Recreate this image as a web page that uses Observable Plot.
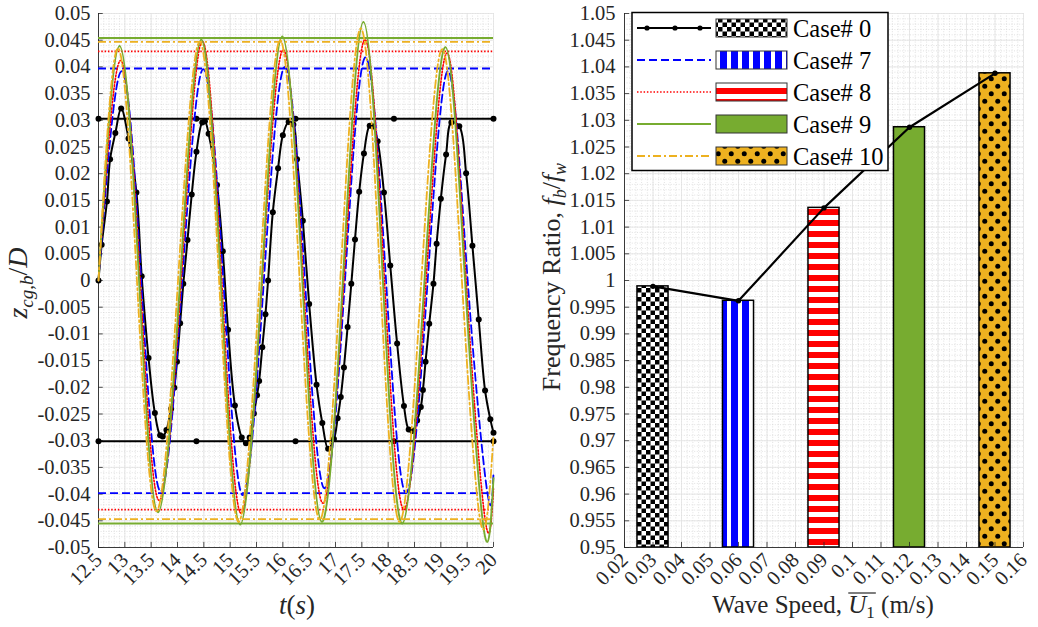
<!DOCTYPE html>
<html><head><meta charset="utf-8">
<script src="https://cdn.jsdelivr.net/npm/d3@7"></script>
<script src="https://cdn.jsdelivr.net/npm/@observablehq/plot@0.6"></script>
<style>
body{margin:0;background:#fff;font-family:"Liberation Serif",serif;}
#wrap{position:relative;width:1038px;height:627px;overflow:hidden;background:#fff;}
#left{position:absolute;left:0;top:0;}
#right{position:absolute;left:520px;top:0;}
svg text{font-family:"Liberation Serif","Times New Roman",serif;}
</style></head><body><div id="wrap"><div id="left"></div><div id="right"></div></div>
<script>
// ---------------- DATA ----------------
const caseLabels = ["Case# 0","Case# 7","Case# 8","Case# 9","Case# 10"];
const caseColors = ["#000000","#0000FF","#FF0000","#77AC30","#EDB120"];
const caseDash   = [null,"8,4","1.5,1.8",null,"8,3,2,3"];
const caseWidth  = [2,1.8,1.6,1.9,1.8];
// right panel
const waveSpeed = [0.03,0.06,0.09,0.12,0.15];
const freqRatio = [0.9989,0.9962,1.0136,1.0287,1.0388];
const barFill   = ["url(#pCheck)","url(#pVert)","url(#pHoriz)","#77AC30","url(#pDots)"];
// left panel: amplitude levels (horizontal lines)
const hiLevel = [0.0303,0.0397,0.0429,0.0454,0.0447];
const loLevel = [-0.0301,-0.0398,-0.0429,-0.0455,-0.0447];
const hlineMarkT = [12.5,14.36,16.24,18.11,20];
// time series [t, z/D]
const case0 = [[12.5,0],[12.56,0.0067],[12.66,0.0148],[12.72,0.0227],[12.82,0.0276],[12.93,0.0322],[13.07,0.0266],[13.22,0.0165],[13.32,0.0008],[13.45,-0.0145],[13.57,-0.0248],[13.67,-0.0290],[13.72,-0.0292],[13.79,-0.0280],[13.88,-0.0240],[13.94,-0.0201],[13.99,-0.0152],[14.05,-0.0080],[14.11,-0.0006],[14.19,0.0076],[14.27,0.0161],[14.36,0.0241],[14.47,0.0296],[14.52,0.0298],[14.59,0.0275],[14.75,0.0179],[14.86,0.0055],[14.96,-0.0092],[15.09,-0.0234],[15.22,-0.0294],[15.30,-0.0305],[15.37,-0.0294],[15.45,-0.0249],[15.51,-0.0215],[15.55,-0.0188],[15.61,-0.0125],[15.67,-0.0063],[15.72,0],[15.81,0.0128],[15.91,0.0210],[16.0,0.0272],[16.11,0.0297],[16.2,0.0292],[16.27,0.0227],[16.38,0.0112],[16.5,-0.0044],[16.64,-0.0195],[16.75,-0.0267],[16.86,-0.0315],[16.97,-0.0297],[17.04,-0.0258],[17.10,-0.0218],[17.16,-0.0163],[17.23,-0.0087],[17.30,-0.0006],[17.37,0.0077],[17.45,0.0166],[17.54,0.0238],[17.65,0.0290],[17.71,0.0289],[17.8,0.0261],[17.92,0.0165],[18.04,0.0028],[18.17,-0.0118],[18.30,-0.0235],[18.39,-0.0279],[18.46,-0.0282],[18.55,-0.0262],[18.62,-0.0237],[18.66,-0.0205],[18.71,-0.0152],[18.78,-0.0081],[18.86,-0.0006],[18.92,0.0069],[19.0,0.0153],[19.1,0.0236],[19.2,0.0296],[19.35,0.0289],[19.48,0.0201],[19.6,0.0065],[19.72,-0.0073],[19.84,-0.0206],[19.94,-0.0260],[20.0,-0.0285]];
const case7 = [[12.5,0],[12.94,0.0392],[13.31,0],[13.68,-0.0395],[14.09,0],[14.49,0.0396],[14.87,0],[15.24,-0.0402],[15.64,0],[16.04,0.0400],[16.42,0],[16.79,-0.0389],[17.18,0],[17.57,0.0418],[17.96,0],[18.34,-0.0398],[18.75,0],[19.14,0.0392],[19.51,0],[19.88,-0.0395],[20,-0.0360]];
const case8 = [[12.5,0],[12.92,0.0412],[13.29,0],[13.65,-0.0412],[14.07,0],[14.47,0.0448],[14.84,0],[15.21,-0.0436],[15.61,0],[16.01,0.0432],[16.39,0],[16.76,-0.0417],[17.16,0],[17.56,0.0451],[17.93,0],[18.30,-0.0429],[18.72,0],[19.12,0.0426],[19.48,0],[19.84,-0.0447],[20,-0.0390]];
const case9 = [[12.5,0],[12.9,0.0439],[13.27,0],[13.63,-0.0434],[14.05,0],[14.45,0.0451],[14.82,0],[15.19,-0.0457],[15.60,0],[15.99,0.0457],[16.37,0],[16.74,-0.0452],[17.14,0],[17.53,0.0484],[17.9,0],[18.27,-0.0455],[18.69,0],[19.09,0.0437],[19.46,0],[19.82,-0.0469],[20,-0.0370]];
const case10 = [[12.5,0],[12.87,0.0435],[13.23,0],[13.6,-0.0432],[14.01,0],[14.42,0.0447],[14.79,0],[15.16,-0.0452],[15.56,0],[15.95,0.0450],[16.32,0],[16.70,-0.0448],[17.09,0],[17.48,0.0472],[17.85,0],[18.22,-0.0452],[18.63,0],[19.03,0.0433],[19.40,0],[19.76,-0.0455],[20,-0.0290]];
const seriesData = [case0,case7,case8,case9,case10];
// ticks
const timeTicks  = d3.range(0,16).map(i=>+(12.5+i*0.5).toFixed(1));
const zTicks     = d3.range(0,21).map(i=>+(-0.05+i*0.005).toFixed(3));
const speedTicks = d3.range(0,15).map(i=>+(0.02+i*0.01).toFixed(2));
const ratioTicks = d3.range(0,21).map(i=>+(0.95+i*0.005).toFixed(3));

// ---------------- helpers ----------------
const FONT = "'Liberation Serif', 'Times New Roman', serif";
const fmt = d => String(d);
const minorXL = d3.range(0,76).map(i=>12.5+i*0.1);
const minorYL = d3.range(0,101).map(i=>-0.05+i*0.001);
const minorXR = d3.range(0,71).map(i=>0.02+i*0.002);
const minorYR = d3.range(0,101).map(i=>0.95+i*0.001);
const AX = "#262626";
const baseStyle = {fontFamily:FONT, fontSize:"20.5px", color:AX, background:"transparent", overflow:"visible"};
const minorOpt = {stroke:"#cfcfcf", strokeWidth:0.6, strokeDasharray:"1,1.6"};
const majorOpt = {stroke:"#e2e2e2", strokeWidth:0.8};

// ---------------- LEFT ----------------
const seriesMarks = [];
seriesData.forEach((s,i)=>{
  const o = {stroke:caseColors[i], strokeWidth:caseWidth[i], strokeDasharray:caseDash[i]};
  seriesMarks.push(Plot.ruleY([hiLevel[i], loLevel[i]], o));
  seriesMarks.push(Plot.line(s, {x:d=>d[0], y:d=>d[1], curve: i===0 ? "catmull-rom" : "natural", ...o}));
  if (i===0) {
    seriesMarks.push(Plot.dot(s, {x:d=>d[0], y:d=>d[1], r:3, fill:"black", stroke:"none"}));
    seriesMarks.push(Plot.dot(hlineMarkT.flatMap(t=>[[t,hiLevel[0]],[t,loLevel[0]]]), {x:d=>d[0], y:d=>d[1], r:3, fill:"black", stroke:"none"}));
  }
});

const L = Plot.plot({
  width:520, height:627, marginLeft:98, marginRight:27, marginTop:13, marginBottom:80,
  style: baseStyle,
  x:{domain:[12.5,20]},
  y:{domain:[-0.05,0.05]},
  marks:[
    Plot.ruleX(minorXL, minorOpt),
    Plot.ruleY(minorYL, minorOpt),
    Plot.ruleX(timeTicks, majorOpt),
    Plot.ruleY(zTicks, majorOpt),
    Plot.axisX(timeTicks, {tickSize:0, tickPadding:9, tickRotate:-45, tickFormat:fmt, label:null}),
    Plot.axisY(zTicks, {tickSize:0, tickPadding:8, tickFormat:fmt, label:null}),
    Plot.ruleX(timeTicks, {y1:-0.05, y2:-0.05+0.00095, stroke:AX, strokeWidth:0.8}),
    Plot.ruleY(zTicks, {x1:12.5, x2:12.5+0.09, stroke:AX, strokeWidth:0.8}),
    Plot.ruleX([12.5], {stroke:AX, strokeWidth:0.9}),
    Plot.ruleY([-0.05], {stroke:AX, strokeWidth:0.9}),
    ...seriesMarks
  ]
});
document.getElementById("left").appendChild(L);

// labels left
const sl = d3.select(L);
const yl = sl.append("text").attr("transform","translate(27,283) rotate(-90)").attr("text-anchor","middle").attr("fill",AX).style("font-size","28px");
yl.append("tspan").style("font-style","italic").text("z");
yl.append("tspan").style("font-style","italic").style("font-size","19px").attr("dy",6).text("cg");
yl.append("tspan").style("font-size","19px").text(",");
yl.append("tspan").style("font-style","italic").style("font-size","19px").text("b");
yl.append("tspan").attr("dy",-6).text("/");
yl.append("tspan").style("font-style","italic").text("D");
const xl = sl.append("text").attr("x",297).attr("y",614).attr("text-anchor","middle").attr("fill",AX).style("font-size","27px");
xl.append("tspan").style("font-style","italic").text("t");
xl.append("tspan").text("(");
xl.append("tspan").style("font-style","italic").text("s");
xl.append("tspan").text(")");

// ---------------- RIGHT ----------------
const bars = waveSpeed.map((s,i)=>({speed:s, ratio:freqRatio[i], fill:barFill[i]}));
const R = Plot.plot({
  width:518, height:627, marginLeft:104, marginRight:15, marginTop:13, marginBottom:80,
  style: baseStyle,
  x:{domain:[0.02,0.16]},
  y:{domain:[0.95,1.05]},
  color:{type:"identity"},
  marks:[
    Plot.ruleX(minorXR, minorOpt),
    Plot.ruleY(minorYR, minorOpt),
    Plot.ruleX(speedTicks, majorOpt),
    Plot.ruleY(ratioTicks, majorOpt),
    Plot.rect(bars, {x1:d=>d.speed-0.00545, x2:d=>d.speed+0.00545, y1:0.95, y2:d=>d.ratio, fill:d=>d.fill, stroke:"black", strokeWidth:1.5}),
    Plot.axisX(speedTicks, {tickSize:0, tickPadding:9, tickRotate:-45, tickFormat:fmt, label:null}),
    Plot.axisY(ratioTicks, {tickSize:0, tickPadding:9, tickFormat:fmt, label:null}),
    Plot.ruleX(speedTicks, {y1:0.95, y2:0.95+0.00095, stroke:AX, strokeWidth:0.8}),
    Plot.ruleY(ratioTicks, {x1:0.02, x2:0.02+0.0018, stroke:AX, strokeWidth:0.8}),
    Plot.ruleX([0.02], {stroke:AX, strokeWidth:0.9}),
    Plot.ruleY([0.95], {stroke:AX, strokeWidth:0.9}),
    Plot.line(bars, {x:"speed", y:"ratio", stroke:"black", strokeWidth:2.2}),
    Plot.dot(bars, {x:"speed", y:"ratio", r:2.7, fill:"black", stroke:"none"})
  ]
});
document.getElementById("right").appendChild(R);

const sr = d3.select(R);
const defs = sr.insert("defs", ":first-child");
let p = defs.append("pattern").attr("id","pCheck").attr("patternUnits","userSpaceOnUse").attr("width",9).attr("height",9);
p.append("rect").attr("width",9).attr("height",9).attr("fill","white");
p.append("rect").attr("width",4.5).attr("height",4.5).attr("fill","black");
p.append("rect").attr("x",4.5).attr("y",4.5).attr("width",4.5).attr("height",4.5).attr("fill","black");
p = defs.append("pattern").attr("id","pVert").attr("patternUnits","userSpaceOnUse").attr("width",11).attr("height",10).attr("x",2);
p.append("rect").attr("width",11).attr("height",10).attr("fill","white");
p.append("rect").attr("width",7).attr("height",10).attr("fill","#0000FF");
p = defs.append("pattern").attr("id","pHoriz").attr("patternUnits","userSpaceOnUse").attr("width",10).attr("height",11);
p.append("rect").attr("width",10).attr("height",11).attr("fill","white");
p.append("rect").attr("width",10).attr("height",6).attr("fill","#FF0000");
p = defs.append("pattern").attr("id","pDots").attr("patternUnits","userSpaceOnUse").attr("width",13).attr("height",15);
p.append("rect").attr("width",13).attr("height",15).attr("fill","#EDB120");
p.append("circle").attr("cx",3.25).attr("cy",3.75).attr("r",2.5).attr("fill","black");
p.append("circle").attr("cx",9.75).attr("cy",11.25).attr("r",2.5).attr("fill","black");

// legend
const lg = sr.append("g");
lg.append("rect").attr("x",112).attr("y",12.5).attr("width",256).attr("height",158).attr("fill","white").attr("stroke","black").attr("stroke-width",1.5);
const rowY = [28,60,92,124,156];
caseLabels.forEach((lab,i)=>{
  const y = rowY[i];
  lg.append("line").attr("x1",117).attr("x2",191).attr("y1",y).attr("y2",y).attr("stroke",caseColors[i]).attr("stroke-width",caseWidth[i]).attr("stroke-dasharray",caseDash[i]);
  if (i===0) [127,155,180].forEach(x=>lg.append("circle").attr("cx",x).attr("cy",y).attr("r",2.6).attr("fill","black"));
  lg.append("rect").attr("x",196).attr("y",y-9).attr("width",71).attr("height",18).attr("fill",barFill[i]).attr("stroke","#333").attr("stroke-width",1);
  lg.append("text").attr("x",273).attr("y",y+8.5).attr("text-anchor","start").attr("fill","black").style("font-size","24.5px").text(lab);
});

// right labels
const yr = sr.append("text").attr("transform","translate(40,277) rotate(-90)").attr("text-anchor","middle").attr("fill",AX).style("font-size","26px");
yr.append("tspan").text("Frequency Ratio, ");
yr.append("tspan").style("font-style","italic").text("f");
yr.append("tspan").style("font-style","italic").style("font-size","18px").attr("dy",6).text("b");
yr.append("tspan").attr("dy",-6).text("/");
yr.append("tspan").style("font-style","italic").text("f");
yr.append("tspan").style("font-style","italic").style("font-size","18px").attr("dy",6).text("w");
const xr = sr.append("text").attr("x",303).attr("y",613).attr("text-anchor","middle").attr("fill",AX).style("font-size","25px");
xr.append("tspan").text("Wave Speed, ");
xr.append("tspan").style("font-style","italic").text("U");
xr.append("tspan").style("font-size","17px").attr("dy",5).text("1");
xr.append("tspan").attr("dy",-5).text(" (m/s)");
d3.selectAll("svg text").style("font-family", FONT);
try {
  const n = xr.node();
  const e1 = n.getExtentOfChar(12), e2 = n.getExtentOfChar(13);
  sr.append("line").attr("x1",e1.x).attr("x2",e2.x+e2.width+1).attr("y1",e1.y+2).attr("y2",e1.y+2).attr("stroke",AX).attr("stroke-width",1.2);
} catch(err) {}
</script>
</body></html>
